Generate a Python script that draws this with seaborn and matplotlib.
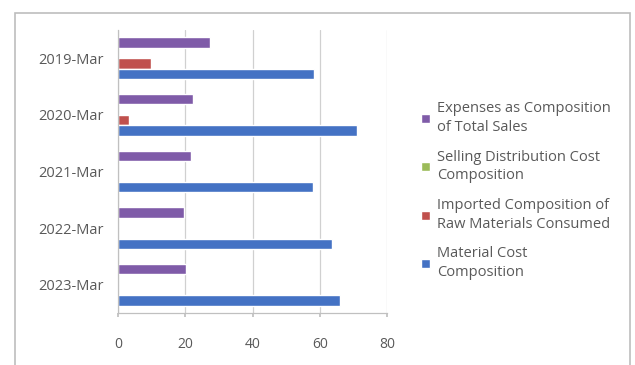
import matplotlib
matplotlib.use("Agg")
import matplotlib.pyplot as plt
from matplotlib.patches import Rectangle
import pandas as pd
import seaborn as sns

# Fiscal periods (top to bottom) and the four composition series, in %
periods = ["2019-Mar", "2020-Mar", "2021-Mar", "2022-Mar", "2023-Mar"]
series_names = [
    "Expenses as Composition of Total Sales",
    "Selling Distribution Cost Composition",
    "Imported Composition of Raw Materials Consumed",
    "Material Cost Composition",
]
legend_labels = [
    "Expenses as Composition\nof Total Sales",
    "Selling Distribution Cost\nComposition",
    "Imported Composition of\nRaw Materials Consumed",
    "Material Cost\nComposition",
]
expenses_pct = [27.4, 22.4, 21.7, 19.7, 20.1]
selling_dist_pct = [0, 0, 0, 0, 0]
imported_raw_pct = [9.8, 3.3, 0, 0, 0]
material_cost_pct = [58.4, 71.2, 58.1, 63.6, 66.1]
x_ticks = [0, 20, 40, 60, 80]

colors = ["#7F5BA8", "#9BBB59", "#C0504D", "#4472C4"]

rows = []
for name, vals in zip(series_names,
                      [expenses_pct, selling_dist_pct, imported_raw_pct, material_cost_pct]):
    for p, v in zip(periods, vals):
        rows.append({"period": p, "series": name, "value": v})
df = pd.DataFrame(rows)

sns.set_theme(style="white")
plt.rcParams["font.family"] = ["Open Sans", "DejaVu Sans"]

fig = plt.figure(figsize=(6.35, 3.65), dpi=100)
ax = fig.add_axes([118 / 635, 1 - 313 / 365, (387 - 118) / 635, (313 - 30) / 365])

sns.barplot(
    data=df, y="period", x="value", hue="series",
    order=periods, hue_order=series_names, palette=colors,
    orient="h", width=0.74, saturation=1, ax=ax, legend=True,
)

ax.set_xlim(0, 80)
ax.set_xticks(x_ticks)
ax.set_xticklabels([str(t) for t in x_ticks])
ax.set_xlabel("")
ax.set_ylabel("")
ax.xaxis.grid(True, color="#d0d0d0", linewidth=0.9)
ax.set_axisbelow(True)
for side in ["top", "right"]:
    ax.spines[side].set_visible(False)
for side in ["left", "bottom"]:
    ax.spines[side].set_color("#c0c0c0")
    ax.spines[side].set_linewidth(0.9)
ax.tick_params(axis="x", colors="#c0c0c0", labelcolor="#595959", length=3,
               direction="out", labelsize=10, pad=14, bottom=True)
ax.tick_params(axis="y", labelcolor="#595959", length=0, labelsize=10.5, pad=10)

handles, _ = ax.get_legend_handles_labels()
ax.get_legend().remove()
fig.legend(
    handles, legend_labels, loc="upper left",
    bbox_to_anchor=(408 / 635, 1 - 88 / 365),
    frameon=False, labelcolor="#595959",
    handlelength=0.6, handleheight=0.6, handletextpad=0.5,
    labelspacing=1.0,
    prop={"size": 10.5},
)
for t in fig.legends[0].get_texts():
    t.set_linespacing(1.35)

# chart frame
fig.patches.append(Rectangle(
    (15 / 635, -0.05), (630 - 15) / 635, 1.05 - 13 / 365,
    transform=fig.transFigure, fill=False, edgecolor="#bdbdbd", linewidth=1.2,
))

fig.savefig("out.png", dpi=100, facecolor="white")
